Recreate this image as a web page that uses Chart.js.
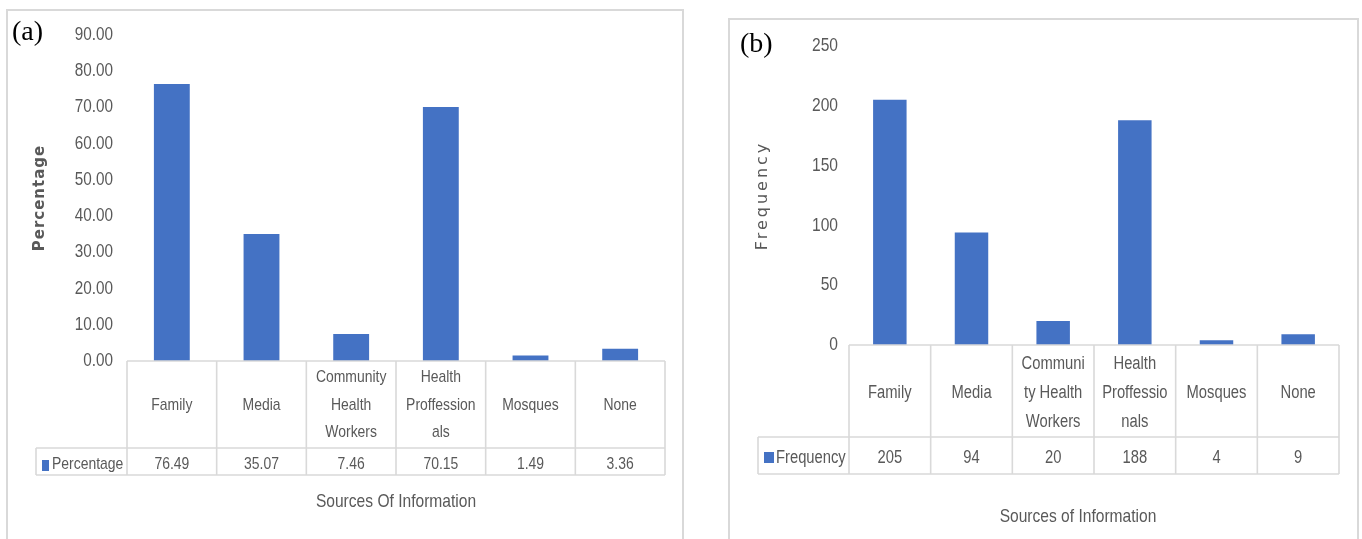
<!DOCTYPE html>
<html><head><meta charset="utf-8">
<script src="https://cdn.jsdelivr.net/npm/chart.js@4/dist/chart.umd.min.js"></script>
<style>
html,body{margin:0;padding:0;background:#fff;width:1362px;height:539px;overflow:hidden;position:relative;}
.panel{position:absolute;border:2px solid #d9d9d9;box-sizing:border-box;}
#pa{left:6px;top:9px;width:678px;height:560px;}
#pb{left:728px;top:18px;width:631px;height:560px;}
canvas{position:absolute;top:0;}
#ca{left:0;}
#cb{left:700px;}
</style></head>
<body>
<div class="panel" id="pa"></div>
<div class="panel" id="pb"></div>
<canvas id="ca" width="700" height="539"></canvas>
<canvas id="cb" width="662" height="539"></canvas>
<script>
// ---- data ----
const categories = ["Family", "Media", "Community Health Workers", "Health Proffessionals", "Mosques", "None"];
const headerLinesA = [["Family"], ["Media"], ["Community", "Health", "Workers"], ["Health", "Proffession", "als"], ["Mosques"], ["None"]];
const headerLinesB = [["Family"], ["Media"], ["Communi", "ty Health", "Workers"], ["Health", "Proffessio", "nals"], ["Mosques"], ["None"]];
const percentages = [76.49, 35.07, 7.46, 70.15, 1.49, 3.36];
const frequencies = [205, 94, 20, 188, 4, 9];
const percentTicks = [0, 10, 20, 30, 40, 50, 60, 70, 80, 90];
const frequencyTicks = [0, 50, 100, 150, 200, 250];
const percentLabels = ["76.49", "35.07", "7.46", "70.15", "1.49", "3.36"];
const frequencyLabels = ["205", "94", "20", "188", "4", "9"];

const FONT = "'Liberation Sans', Arial, sans-serif";
const SX = 0.82;   // horizontal condensing to mimic a narrow font
const GREY = '#595959';
const LINE = '#d9d9d9';
const BAR = '#4472C4';

function txt(ctx, s, x, y, align, size, sx) {
  ctx.save();
  ctx.translate(x, y);
  ctx.scale(sx === undefined ? SX : sx, 1);
  ctx.font = size + 'px ' + FONT;
  ctx.textAlign = align;
  ctx.textBaseline = 'middle';
  ctx.fillText(s, 0, 0);
  ctx.restore();
}

function tablePlugin(cfg) {
  return {
    id: 'tbl',
    afterDraw(chart) {
      const ctx = chart.ctx;
      const xs = chart.scales.x, ys = chart.scales.y;
      const ca = chart.chartArea;
      const n = chart.data.labels.length;
      const w = (ca.right - ca.left) / n;
      const top = ca.bottom, mid = cfg.headerBottom, bot = cfg.dataBottom;
      ctx.save();
      ctx.strokeStyle = LINE;
      ctx.lineWidth = 1.6;
      ctx.beginPath();
      ctx.moveTo(ca.left, top); ctx.lineTo(ca.right, top);
      ctx.moveTo(cfg.legendLeft, mid); ctx.lineTo(ca.right, mid);
      ctx.moveTo(cfg.legendLeft, bot); ctx.lineTo(ca.right, bot);
      for (let i = 0; i <= n; i++) {
        const x = ca.left + i * w;
        ctx.moveTo(x, top); ctx.lineTo(x, bot);
      }
      ctx.moveTo(cfg.legendLeft, mid); ctx.lineTo(cfg.legendLeft, bot);
      ctx.stroke();
      ctx.fillStyle = GREY;
      // y tick labels
      ys.ticks.forEach(t => {
        txt(ctx, cfg.tickFmt(t.value), ca.left - cfg.tickPad, ys.getPixelForValue(t.value), 'right', cfg.tickSize, cfg.tickSX);
      });
      // header + value text
      const hc = cfg.headerCenter;
      for (let i = 0; i < n; i++) {
        const cx = xs.getPixelForValue(i);
        const lines = cfg.headerLines[i];
        const y0 = hc - (lines.length - 1) * cfg.lineHeight / 2;
        lines.forEach((t, k) => txt(ctx, t, cx, y0 + k * cfg.lineHeight, 'center', cfg.fontSize));
        txt(ctx, cfg.values[i], cx, cfg.dataCenter, 'center', cfg.fontSize);
      }
      // legend key
      ctx.fillStyle = BAR;
      ctx.fillRect(cfg.key[0], cfg.key[1], cfg.key[2], cfg.key[3]);
      ctx.fillStyle = GREY;
      txt(ctx, cfg.seriesName, cfg.keyTextX, cfg.dataCenter, 'left', cfg.fontSize);
      // x title
      txt(ctx, cfg.xTitle, cfg.xTitlePos[0], cfg.xTitlePos[1], 'center', cfg.xTitleSize);
      // y title
      ctx.save();
      ctx.translate(cfg.yTitlePos[0], (ca.top + ca.bottom) / 2);
      ctx.rotate(-Math.PI / 2);
      ctx.font = cfg.yTitleFont;
      ctx.letterSpacing = cfg.yTitleSpacing;
      ctx.textAlign = 'center';
      ctx.textBaseline = 'middle';
      ctx.fillText(cfg.yTitle, 0, 0);
      ctx.restore();
      // panel tag
      ctx.fillStyle = '#000';
      ctx.textAlign = 'left';
      ctx.textBaseline = 'middle';
      ctx.font = "28px 'Liberation Serif', 'Times New Roman', serif";
      ctx.fillText(cfg.tag, cfg.tagPos[0], cfg.tagPos[1]);
      ctx.restore();
    }
  };
}

function makeChart(id, values, ticks, pad, yWidth, xHeight, barPct, tcfg) {
  return new Chart(document.getElementById(id), {
    type: 'bar',
    data: {
      labels: categories,
      datasets: [{ label: tcfg.seriesName, data: values, backgroundColor: BAR, borderWidth: 0,
        barPercentage: barPct, categoryPercentage: 1 }]
    },
    options: {
      responsive: false, animation: false,
      layout: { padding: pad },
      plugins: { legend: { display: false }, tooltip: { enabled: false } },
      scales: {
        x: {
          grid: { display: false, drawTicks: false }, border: { display: false },
          ticks: { display: false },
          afterFit(s) { s.height = xHeight; }
        },
        y: {
          min: ticks[0], max: ticks[ticks.length - 1],
          grid: { display: false, drawTicks: false }, border: { display: false },
          afterBuildTicks(s) { s.ticks = ticks.map(v => ({ value: v })); },
          ticks: { display: false },
          afterFit(s) { s.width = yWidth; }
        }
      }
    },
    plugins: [tablePlugin(tcfg)]
  });
}

makeChart('ca', percentages, percentTicks,
  { top: 35, right: 35, bottom: 0, left: 0 }, 127, 178, 0.4, {
    tickFmt: v => v.toFixed(2), tickSize: 18, tickSX: 0.85, tickPad: 14,
    headerLines: headerLinesA, values: percentLabels, seriesName: 'Percentage',
    headerBottom: 448, dataBottom: 475, legendLeft: 36,
    fontSize: 17, lineHeight: 27.5, headerCenter: 405, dataCenter: 464,
    key: [42, 460, 7, 11], keyTextX: 52,
    xTitle: 'Sources Of Information', xTitleSize: 19, xTitlePos: [396, 502],
    yTitle: 'Percentage', yTitlePos: [40], yTitleFont: "bold 15px 'DejaVu Sans', Verdana, sans-serif", yTitleSpacing: '1px',
    tag: '(a)', tagPos: [12, 33]
  });

makeChart('cb', frequencies, frequencyTicks,
  { top: 46, right: 23, bottom: 0, left: 0 }, 149, 194, 0.41, {
    tickFmt: v => String(v), tickSize: 19, tickSX: 0.82, tickPad: 11,
    headerLines: headerLinesB, values: frequencyLabels, seriesName: 'Frequency',
    headerBottom: 437, dataBottom: 474, legendLeft: 58,
    fontSize: 18, lineHeight: 29, headerCenter: 393, dataCenter: 458,
    key: [64, 452, 10, 11], keyTextX: 76,
    xTitle: 'Sources of Information', xTitleSize: 19, xTitlePos: [378, 517],
    yTitle: 'Frequency', yTitlePos: [63], yTitleFont: "16px 'DejaVu Sans', Verdana, sans-serif", yTitleSpacing: '3px',
    tag: '(b)', tagPos: [40, 45]
  });
</script>
</body></html>
